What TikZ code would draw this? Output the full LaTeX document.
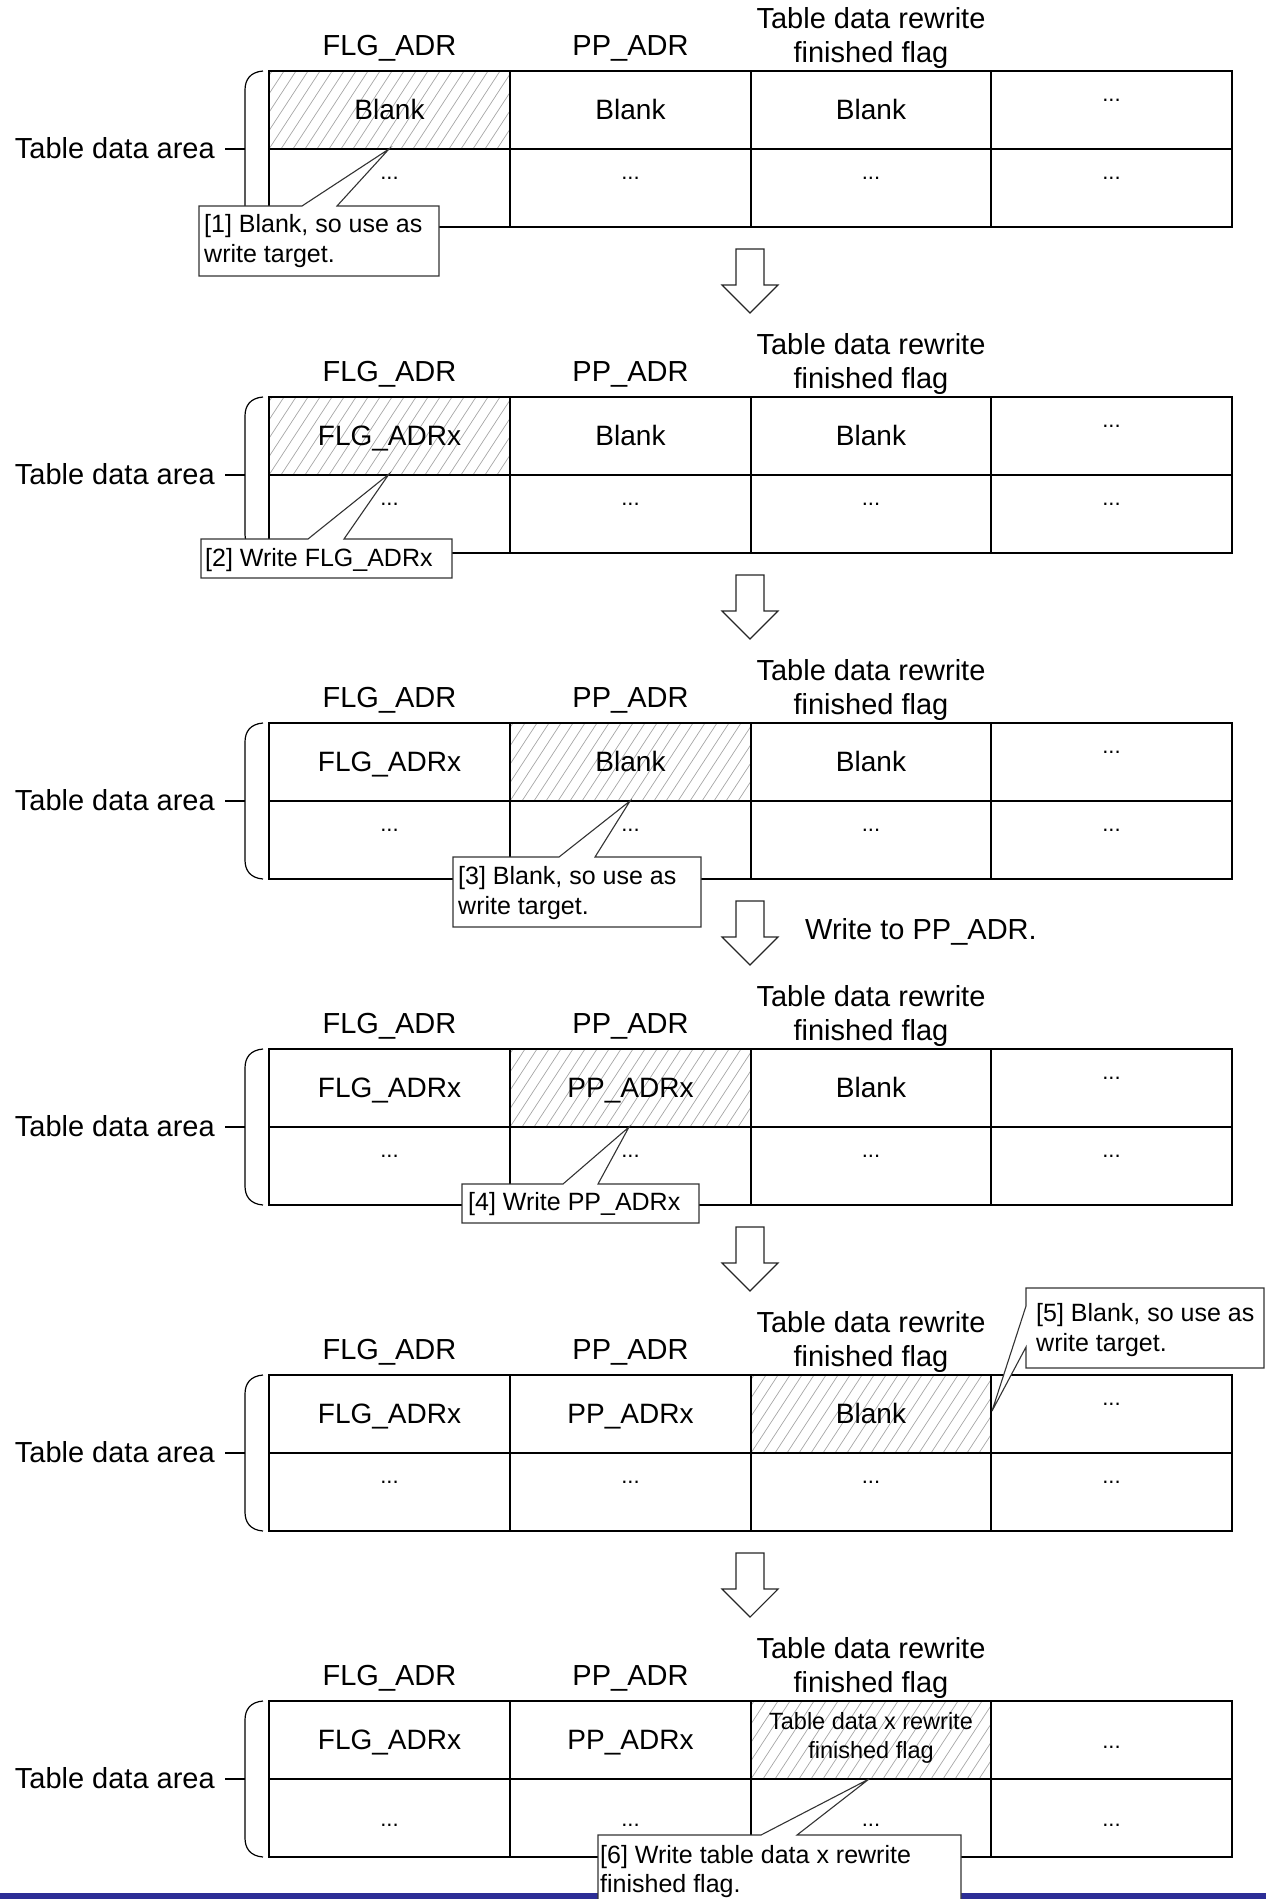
\documentclass[tikz,border=0pt]{standalone}
\usepackage{fontspec}
\setmainfont{Liberation Sans}
\definecolor{barblue}{RGB}{44,46,150}
\tikzset{
  gridline/.style={line width=2pt, draw=black},
  hatchline/.style={draw=black!35, line width=0.7pt},
  calloutshape/.style={fill=white, draw=black!80, line width=1.1pt, line join=miter},
  blockarrow/.style={fill=white, draw=black!85, line width=1.1pt},
  bracket/.style={draw=black, line width=1.2pt},
  headtxt/.style={font=\fontsize{29}{34}\selectfont, inner sep=0pt, anchor=base},
  celltxt/.style={font=\fontsize{28}{34}\selectfont, inner sep=0pt, anchor=base},
  smallcelltxt/.style={font=\fontsize{23.5}{29}\selectfont, inner sep=0pt, anchor=base},
  dotstxt/.style={font=\fontsize{22}{26}\selectfont, inner sep=0pt, anchor=base},
  calltxt/.style={font=\fontsize{25}{30}\selectfont, inner sep=0pt, anchor=base west},
}
% hatched cell in the upper row, between x=#1 and x=#2
\newcommand\hatchcell[2]{%
  \begin{scope}
    \clip (#1,71) rectangle (#2,149);
    \foreach \i in {0,...,26} \draw[hatchline] ({#1-60+\i*12},149) -- ++(51,-78);
  \end{scope}}
% grid, headers, bracket and label of one panel; #1 = panel number for names
\newcommand\tblpanel[1]{%
  \draw[gridline] (269,71) rectangle (1232,227);
  \draw[gridline] (269,149) -- (1232,149);
  \draw[gridline] (510,71) -- (510,227);
  \draw[gridline] (751,71) -- (751,227);
  \draw[gridline] (991,71) -- (991,227);
  \node[headtxt] (hf#1) at (389.5,55) {FLG\_ADR};
  \node[headtxt] (hp#1) at (630.5,55) {PP\_ADR};
  \node[headtxt] (ht#1) at (871,28) {Table data rewrite};
  \node[headtxt] (hu#1) at (871,62) {finished flag};
  \node[headtxt, anchor=base east] (la#1) at (215,158) {Table data area};
  \coordinate (bt#1) at (263,71);
  \coordinate (bb#1) at (263,227);
  \coordinate (bm#1) at (245,149);
  \draw[bracket] (bt#1) .. controls (250,72) and (245,80) .. (245,90) -- (245,208) .. controls (245,218) and (250,226) .. (bb#1);
  \draw[bracket] (225,149) -- (bm#1);
}
\newcommand\lowdots[1]{%
  \node[dotstxt] (e#1) at (389.5,179) {...};
  \node[dotstxt] (f#1) at (630.5,179) {...};
  \node[dotstxt] (g#1) at (871,179) {...};
  \node[dotstxt] (h#1) at (1111.5,179) {...};
  \node[dotstxt] (d#1) at (1111.5,101) {...};
}
\newcommand\downblock{%
  \draw[blockarrow] (736,249) -- (764,249) -- (764,285) -- (778,285) -- (750,313) -- (722,285) -- (736,285) -- cycle;}
\begin{document}
\begin{tikzpicture}[x=1pt,y=-1pt]
\useasboundingbox (0,0) rectangle (1266,1899);
\fill[barblue] (0,1893) rectangle (1266,1899);

% ---------- panel 1
\begin{scope}
  \hatchcell{269}{510}
  \tblpanel{1}
  \node[celltxt] (a1) at (389.5,119) {Blank};
  \node[celltxt] (b1) at (630.5,119) {Blank};
  \node[celltxt] (c1) at (871,119) {Blank};
  \lowdots{1}
  \downblock
  \coordinate (tip1) at (389,149);
  \draw[calloutshape] (199,206) -- (302,206) -- (tip1) -- (337,206) -- (439,206) -- (439,276) -- (199,276) -- cycle;
  \node[calltxt] (k1a) at (204,232) {[1] Blank, so use as};
  \node[calltxt] (k1b) at (204,262) {write target.};
\end{scope}

% ---------- panel 2
\begin{scope}[shift={(0,326)}]
  \hatchcell{269}{510}
  \tblpanel{2}
  \node[celltxt] (a2) at (389.5,119) {FLG\_ADRx};
  \node[celltxt] (b2) at (630.5,119) {Blank};
  \node[celltxt] (c2) at (871,119) {Blank};
  \lowdots{2}
  \downblock
  \coordinate (tip2) at (389,148);
  \draw[calloutshape] (201,213) -- (308,213) -- (tip2) -- (344,213) -- (452,213) -- (452,252) -- (201,252) -- cycle;
  \node[calltxt] (k2a) at (205,240) {[2] Write FLG\_ADRx};
\end{scope}

% ---------- panel 3
\begin{scope}[shift={(0,652)}]
  \hatchcell{510}{751}
  \tblpanel{3}
  \node[celltxt] (a3) at (389.5,119) {FLG\_ADRx};
  \node[celltxt] (b3) at (630.5,119) {Blank};
  \node[celltxt] (c3) at (871,119) {Blank};
  \lowdots{3}
  \downblock
  \node[headtxt, anchor=base west] (w3) at (805,287) {Write to PP\_ADR.};
  \coordinate (tip3) at (630,149);
  \draw[calloutshape] (453,205) -- (559,205) -- (tip3) -- (595,205) -- (701,205) -- (701,275) -- (453,275) -- cycle;
  \node[calltxt] (k3a) at (458,232) {[3] Blank, so use as};
  \node[calltxt] (k3b) at (458,262) {write target.};
\end{scope}

% ---------- panel 4
\begin{scope}[shift={(0,978)}]
  \hatchcell{510}{751}
  \tblpanel{4}
  \node[celltxt] (a4) at (389.5,119) {FLG\_ADRx};
  \node[celltxt] (b4) at (630.5,119) {PP\_ADRx};
  \node[celltxt] (c4) at (871,119) {Blank};
  \lowdots{4}
  \downblock
  \coordinate (tip4) at (629,149);
  \draw[calloutshape] (462,206) -- (563,206) -- (tip4) -- (598,206) -- (699,206) -- (699,245) -- (462,245) -- cycle;
  \node[calltxt] (k4a) at (468,232) {[4] Write PP\_ADRx};
\end{scope}

% ---------- panel 5
\begin{scope}[shift={(0,1304)}]
  \hatchcell{751}{991}
  \tblpanel{5}
  \node[celltxt] (a5) at (389.5,119) {FLG\_ADRx};
  \node[celltxt] (b5) at (630.5,119) {PP\_ADRx};
  \node[celltxt] (c5) at (871,119) {Blank};
  \lowdots{5}
  \downblock
  \coordinate (tip5) at (992,107);
  \draw[calloutshape] (1026,-16) -- (1264,-16) -- (1264,64) -- (1026,64) -- (1026,43) -- (tip5) -- (1026,2) -- cycle;
  \node[calltxt] (k5a) at (1036,17) {[5] Blank, so use as};
  \node[calltxt] (k5b) at (1036,47) {write target.};
\end{scope}

% ---------- panel 6
\begin{scope}[shift={(0,1630)}]
  \hatchcell{751}{991}
  \tblpanel{6}
  \node[celltxt] (a6) at (389.5,119) {FLG\_ADRx};
  \node[celltxt] (b6) at (630.5,119) {PP\_ADRx};
  \node[smallcelltxt] (c6) at (871,99) {Table data x rewrite};
  \node[smallcelltxt] (c6b) at (871,128) {finished flag};
  \node[dotstxt] (d6) at (1111.5,118) {...};
  \node[dotstxt] (e6) at (389.5,196) {...};
  \node[dotstxt] (f6) at (630.5,196) {...};
  \node[dotstxt] (g6) at (871,196) {...};
  \node[dotstxt] (h6) at (1111.5,196) {...};
  \coordinate (tip6) at (869,149);
  \draw[calloutshape] (598,205) -- (761,205) -- (tip6) -- (797,205) -- (961,205) -- (961,300) -- (598,300) -- cycle;
  \node[calltxt] (k6a) at (600,233) {[6] Write table data x rewrite};
  \node[calltxt] (k6b) at (600,262) {finished flag.};
\end{scope}
\end{tikzpicture}
\end{document}
